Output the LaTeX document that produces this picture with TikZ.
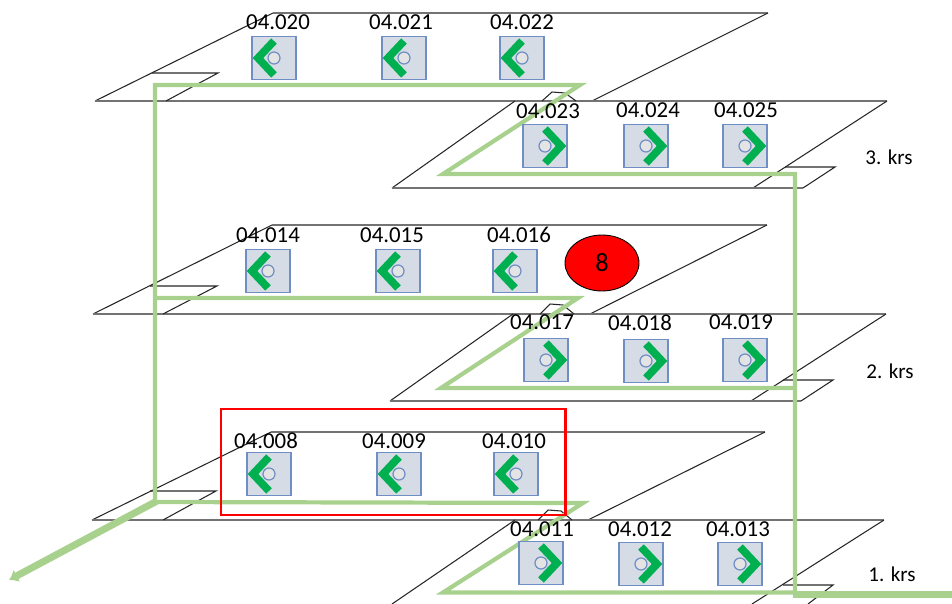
\documentclass[tikz,border=0pt]{standalone}
\usepackage{fontspec}
\setmainfont{Carlito}
\usetikzlibrary{arrows.meta,shapes.geometric}
\definecolor{routegreen}{HTML}{A9D18E}
\definecolor{chevgreen}{HTML}{00B050}
\definecolor{modfill}{HTML}{D6DCE5}
\definecolor{modline}{HTML}{6F8FC4}
\definecolor{holefill}{HTML}{E4E4E4}
\tikzset{
  plane/.style={line width=0.6pt,black!85},
  edge/.style={line width=1pt,black!55},
  route/.style={line width=2.4pt,routegreen,line join=miter},
  modbox/.style={draw=modline,fill=modfill,line width=0.7pt,minimum width=0.88cm,minimum height=0.86cm,inner sep=0pt},
  hole/.style={circle,draw=modline,fill=holefill,line width=0.7pt,minimum size=0.24cm,inner sep=0pt},
  chev/.style={line width=4.4pt,chevgreen,line join=miter},
  door/.style={font=\fontsize{13}{15}\selectfont,inner sep=0pt},
  floorname/.style={font=\fontsize{12}{14}\selectfont,inner sep=0pt},
}
\def\modL#1#2#3#4{% box pointing left, with its label
  \node[modbox] (b#1) at (#2) {};
  \node[hole] (h#1) at (#2) {};
  \draw[chev,shift={(#2)}] (0,-17) -- (-16,0) -- (0,17);
  \node[door] (t#1) at (#3,#4) {04.#1};
}
\def\modR#1#2#3#4{% box pointing right, with its label
  \node[modbox] (b#1) at (#2) {};
  \node[hole] (h#1) at (#2) {};
  \draw[chev,shift={(#2)}] (0,-17) -- (16,0) -- (0,17);
  \node[door] (t#1) at (#3,#4) {04.#1};
}
\begin{document}
\begin{tikzpicture}[x=0.02cm,y=-0.02cm]
        \useasboundingbox (0,0) rectangle (952,604);
        %
        % 3. krs
        \draw[plane] (95,101) -- (273,13);
        \draw[edge] (273,13) -- (768,13);
        \draw[plane] (768,13) -- (592,101);
        \draw[edge] (95,101) -- (592,101) -- (887,101);
        \draw[plane] (152,73) -- (218,73) -- (166,101);
        \draw[plane] (542,101) -- (552,92) -- (565,93) -- (576,101);
        \draw[plane] (392,188) -- (515,101);
        \draw[plane] (887,101) -- (753,188);
        \draw[edge] (392,188) -- (803,188);
        \draw[plane] (785,167) -- (835,167) -- (803,188);
        %
        % 2. krs
        \draw[plane] (93,314) -- (272,225);
        \draw[edge] (272,225) -- (767,225);
        \draw[plane] (767,225) -- (590,314);
        \draw[edge] (93,314) -- (886,314);
        \draw[plane] (150,286) -- (217,286) -- (163,314);
        \draw[plane] (540,314) -- (550,304) -- (563,305) -- (574,314);
        \draw[plane] (390,401) -- (513,314);
        \draw[plane] (886,314) -- (751,401);
        \draw[edge] (390,401) -- (801,401);
        \draw[plane] (783,380) -- (833,380) -- (801,401);
        %
        % 1. krs
        \draw[plane] (92,520) -- (271,432);
        \draw[edge] (271,432) -- (765,432);
        \draw[plane] (765,432) -- (588,520);
        \draw[edge] (92,520) -- (884,520);
        \draw[plane] (150,491) -- (216,491) -- (163,520);
        \draw[plane] (538,520) -- (548,510) -- (561,511) -- (572,520);
        \draw[plane] (392,604) -- (515,520);
        \draw[plane] (884,520) -- (752,604);
        \draw[plane] (783,585) -- (833,585) -- (808,604);
        %
        % routes
        \draw[route] (155,502) -- (155,85) -- (580,85) -- (443,174) -- (795,174) -- (795,597);
        \draw[route] (155,298) -- (578,298) -- (441,388) -- (795,388);
        \draw[route] (155,502) -- (583,503) -- (443,592.5) -- (795,592.5);
        \draw[-{Latex[length=5pt,width=8pt]},routegreen,line width=4pt] (157,501) -- (9,580);
        \draw[routegreen,line width=4pt] (793,594.5) -- (952,594.5);
        %
        \modL{020}{274,58}{278}{22}
        \modL{021}{404,58}{401}{22}
        \modL{022}{522,58}{522}{22}
        \modR{023}{545,146}{548}{111}
        \modR{024}{646,146}{648}{110}
        \modR{025}{745,146}{746}{110}
        %
        \modL{014}{268,271}{268}{235}
        \modL{015}{398,271}{392}{235}
        \modL{016}{515,271}{519}{235}
        \modR{017}{546,360}{542}{322}
        \modR{018}{646,361}{640}{323}
        \modR{019}{745,360}{741}{322}
        %
        \modL{008}{269,474}{266}{441}
        \modL{009}{399,474}{394}{441}
        \modL{010}{516,474}{514}{441}
        \modR{011}{541,563}{542}{529}
        \modR{012}{641,564}{640}{529}
        \modR{013}{740,564}{738}{529}
        %
        \draw[red,line width=1.7pt] (221,409) rectangle (565,515);
        \node[ellipse,draw=black,fill=red,line width=0.5pt,minimum width=1.48cm,minimum height=1.12cm,inner sep=0pt,font=\fontsize{15}{17}\selectfont] (alarm) at (602,263) {8};
        %
        \node[floorname] (k3) at (889,157) {3. krs};
        \node[floorname] (k2) at (890,371) {2. krs};
        \node[floorname] (k1) at (892,574) {1. krs};
      \end{tikzpicture}
\end{document}
